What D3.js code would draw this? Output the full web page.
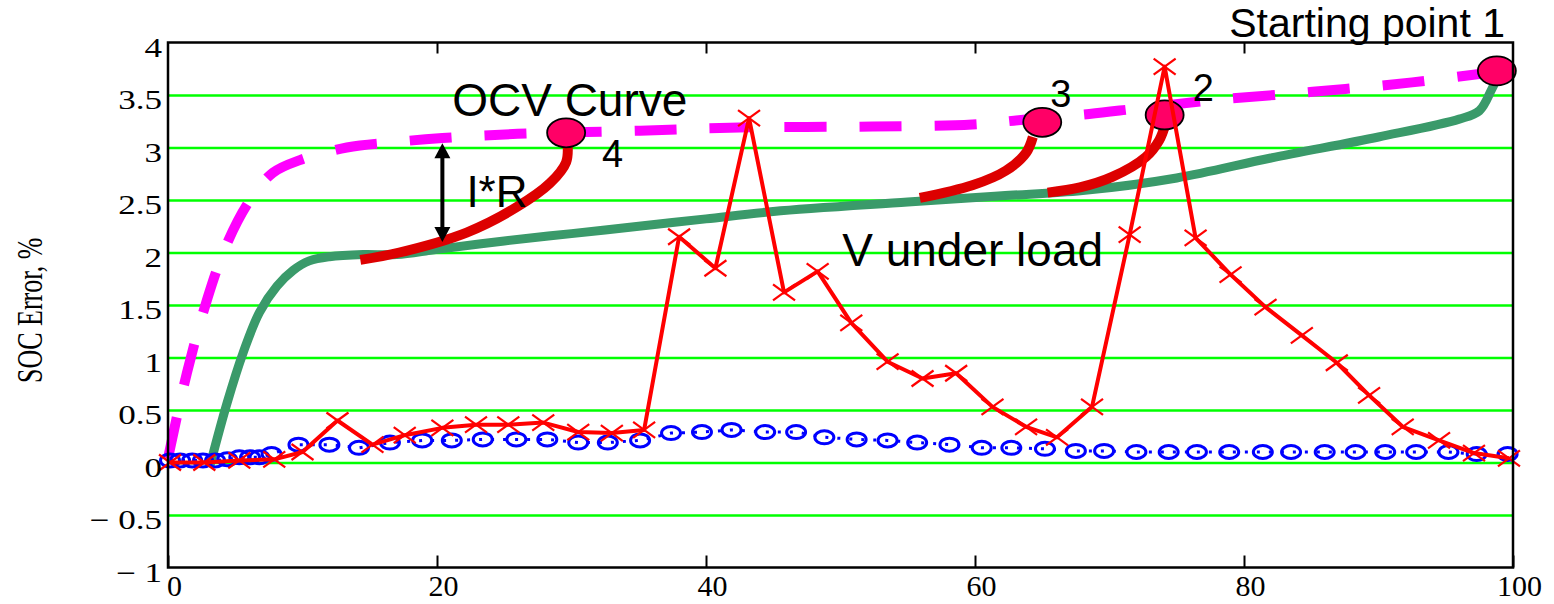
<!DOCTYPE html>
<html>
<head>
<meta charset="utf-8">
<script src="https://cdn.jsdelivr.net/npm/d3@7"></script>
<style>
  body { margin: 0; background: #fff; }
  svg { display: block; }
</style>
</head>
<body>
<div id="chart"></div>
<script>
// tick labels
const xTicks = [0, 20, 40, 60, 80, 100];
const yTicks = [-1, -0.5, 0, 0.5, 1, 1.5, 2, 2.5, 3, 3.5, 4];
const gridVals = [-0.5, 0, 0.5, 1, 1.5, 2, 2.5, 3, 3.5];

// OCV curve (dashed magenta)
const ocvX = [0, 1.4, 2.9, 4.4, 6.1, 7.8, 9.8, 13.3, 16.7, 20.4, 26, 35.1, 42.5, 52.4, 59.8, 64, 68.5, 72, 77.6, 85.1, 92.5, 97.5, 98.8];
const ocvY = [0.04, 0.85, 1.55, 2.09, 2.50, 2.76, 2.88, 3.00, 3.05, 3.09, 3.13, 3.16, 3.19, 3.20, 3.22, 3.27, 3.32, 3.37, 3.45, 3.53, 3.62, 3.70, 3.72];

// V under load (green)
const loadX = [3.1, 4.4, 5.6, 6.8, 8.1, 9.3, 10.5, 12, 14.5, 17, 20, 25, 30, 35, 40, 45, 55, 62, 68, 75, 82, 90, 96, 97.5, 98.4, 99];
const loadY = [-0.04, 0.57, 1.05, 1.43, 1.68, 1.83, 1.92, 1.96, 1.98, 1.98, 2.03, 2.11, 2.18, 2.25, 2.32, 2.39, 2.48, 2.54, 2.59, 2.71, 2.90, 3.10, 3.27, 3.35, 3.55, 3.72];

// relaxation curves (thick red), ending at the starting points
const relax4X = [14.3, 17.2, 22.2, 25.9, 28.4, 29.6, 29.7];
const relax4Y = [1.93, 2.00, 2.19, 2.43, 2.66, 2.86, 3.05];
const relax3X = [55.9, 59.8, 62.3, 63.8, 64.3];
const relax3Y = [2.52, 2.64, 2.78, 2.95, 3.10];
const relax2X = [65.4, 67.8, 70.2, 72.7, 73.7, 74.1];
const relax2Y = [2.57, 2.62, 2.72, 2.91, 3.07, 3.20];

// starting points
const startLabels = ["1", "2", "3", "4"];
const startX = [98.8, 74.1, 65.0, 29.6];
const startY = [3.73, 3.31, 3.24, 3.14];

// SOC error, circles (blue)
const circX = [0.15, 0.9, 1.8, 2.6, 3.5, 4.4, 5.3, 6.1, 6.8, 7.7, 9.7, 12.0, 14.2, 16.5, 18.9, 21.1, 23.4, 25.9, 28.2, 30.5, 32.7, 35.1, 37.4, 39.7, 41.9, 44.4, 46.7, 48.8, 51.2, 53.5, 55.7, 58.1, 60.5, 62.7, 65.2, 67.5, 69.6, 72.0, 74.4, 76.5, 78.9, 81.4, 83.5, 86.0, 88.3, 90.5, 92.8, 95.2, 97.3, 99.6];
const circY = [0.02, 0.02, 0.02, 0.02, 0.02, 0.03, 0.05, 0.05, 0.05, 0.08, 0.17, 0.17, 0.14, 0.19, 0.21, 0.21, 0.22, 0.22, 0.22, 0.19, 0.19, 0.21, 0.28, 0.29, 0.31, 0.29, 0.29, 0.24, 0.22, 0.21, 0.19, 0.17, 0.14, 0.14, 0.13, 0.11, 0.11, 0.10, 0.10, 0.10, 0.10, 0.10, 0.10, 0.10, 0.10, 0.10, 0.10, 0.10, 0.08, 0.08];

// SOC error, crosses (red)
const crossX = [0.15, 2.7, 5.3, 7.9, 10.0, 12.6, 15.2, 17.6, 20.4, 22.9, 25.3, 27.9, 30.5, 33.0, 35.4, 38.0, 40.7, 43.2, 45.8, 48.3, 50.8, 53.5, 56.1, 58.6, 61.3, 63.8, 66.1, 68.7, 71.5, 74.1, 76.4, 79.0, 81.6, 84.3, 86.9, 89.3, 91.8, 94.5, 97.1, 99.7];
const crossY = [0.0, 0.0, 0.02, 0.03, 0.10, 0.40, 0.17, 0.26, 0.33, 0.36, 0.36, 0.38, 0.29, 0.28, 0.31, 2.15, 1.85, 3.28, 1.62, 1.82, 1.33, 0.96, 0.80, 0.85, 0.53, 0.34, 0.24, 0.53, 2.17, 3.77, 2.14, 1.79, 1.48, 1.21, 0.95, 0.64, 0.34, 0.21, 0.09, 0.04];

const W = 1554, H = 604;
const margin = { top: 42.5, right: 41, bottom: 36.5, left: 168 };
const width = W - margin.left - margin.right;
const height = H - margin.top - margin.bottom;

const svg = d3.select("#chart").append("svg")
  .attr("width", W).attr("height", H);
const g = svg.append("g")
  .attr("transform", `translate(${margin.left},${margin.top})`);

const x = d3.scaleLinear().domain([0, 100]).range([0, width]);
const y = d3.scaleLinear().domain([-1, 4]).range([height, 0]);

const zip = (xs, ys) => xs.map((v, i) => [v, ys[i]]);
const line = d3.line().x(d => x(d[0])).y(d => y(d[1]));
const smooth = d3.line().x(d => x(d[0])).y(d => y(d[1])).curve(d3.curveCatmullRom);

// grid
g.append("g")
  .call(d3.axisLeft(y).tickValues(gridVals).tickSize(-width).tickFormat(""))
  .call(a => a.select(".domain").remove())
  .selectAll("line").attr("stroke", "#00ff00").attr("stroke-width", 2.6);

// OCV curve
g.append("path")
  .datum(zip(ocvX, ocvY))
  .attr("d", smooth)
  .attr("fill", "none")
  .attr("stroke", "#ff00ff")
  .attr("stroke-width", 10)
  .attr("stroke-dasharray", "42,33");

// V under load
g.append("path")
  .datum(zip(loadX, loadY))
  .attr("d", smooth)
  .attr("fill", "none")
  .attr("stroke", "#3a9a6a")
  .attr("stroke-width", 9)
  .attr("stroke-linejoin", "round");

// relaxation curves
[[relax4X, relax4Y], [relax3X, relax3Y], [relax2X, relax2Y]].forEach(([xs, ys]) => {
  g.append("path")
    .datum(zip(xs, ys))
    .attr("d", smooth)
    .attr("fill", "none")
    .attr("stroke", "#dd0000")
    .attr("stroke-width", 10);
});

// starting points
g.selectAll(".start")
  .data(zip(startX, startY))
  .enter().append("ellipse")
  .attr("class", "start")
  .attr("cx", d => x(d[0]))
  .attr("cy", d => y(d[1]))
  .attr("rx", 19).attr("ry", 14.5)
  .attr("fill", "#ff0066")
  .attr("stroke", "#000")
  .attr("stroke-width", 1.8);

// blue circles series
g.append("path")
  .datum(zip(circX, circY))
  .attr("d", line)
  .attr("fill", "none")
  .attr("stroke", "#0000ff")
  .attr("stroke-width", 3)
  .attr("stroke-dasharray", "3,9");
g.selectAll(".circ")
  .data(zip(circX, circY))
  .enter().append("ellipse")
  .attr("class", "circ")
  .attr("cx", d => x(d[0]))
  .attr("cy", d => y(d[1]))
  .attr("rx", 9.5).attr("ry", 6.5)
  .attr("fill", "none")
  .attr("stroke", "#0000ff")
  .attr("stroke-width", 3);

// red crosses series
g.append("path")
  .datum(zip(crossX, crossY))
  .attr("d", line)
  .attr("fill", "none")
  .attr("stroke", "#ff0000")
  .attr("stroke-width", 4)
  .attr("stroke-linejoin", "round");
const cross = g.selectAll(".cross")
  .data(zip(crossX, crossY))
  .enter().append("g")
  .attr("class", "cross")
  .attr("transform", d => `translate(${x(d[0])},${y(d[1])})`);
cross.append("line").attr("x1", -11).attr("y1", -8).attr("x2", 11).attr("y2", 8);
cross.append("line").attr("x1", -11).attr("y1", 8).attr("x2", 11).attr("y2", -8);
cross.selectAll("line").attr("stroke", "#ff0000").attr("stroke-width", 2.2);

// I*R arrow
const ax = x(20.4), ay1 = y(3.04), ay2 = y(2.1);
g.append("line")
  .attr("x1", ax).attr("x2", ax)
  .attr("y1", ay1 + 12).attr("y2", ay2 - 12)
  .attr("stroke", "#000").attr("stroke-width", 4);
g.append("path")
  .attr("d", `M${ax},${ay1} L${ax - 8},${ay1 + 15} L${ax + 8},${ay1 + 15} Z M${ax},${ay2} L${ax - 8},${ay2 - 15} L${ax + 8},${ay2 - 15} Z`)
  .attr("fill", "#000");

// annotations
const sans = "'Liberation Sans', Arial, sans-serif";
const notes = [
  { t: "OCV Curve", x: 21.5, y: 3.0, size: 46, anchor: "start", dx: -5, dy: -32 },
  { t: "I*R", x: 20.4, y: 2.43, size: 44, anchor: "start", dx: 24, dy: 0 },
  { t: "V under load", x: 50.2, y: 1.87, size: 46, anchor: "start", dx: -1, dy: 0 },
  { t: "Starting point 1", x: 100, y: 4, size: 41, anchor: "end", dx: -8, dy: -6 }
];
g.selectAll(".note")
  .data(notes)
  .enter().append("text")
  .attr("class", "note")
  .attr("x", d => x(d.x) + d.dx)
  .attr("y", d => y(d.y) + d.dy)
  .attr("text-anchor", d => d.anchor)
  .attr("font-family", sans)
  .attr("font-size", d => d.size)
  .text(d => d.t);

// numbers beside starting points 2..4
const numOffset = [null, [28, -14], [8, -15], [36, 34]];
g.selectAll(".num")
  .data(startLabels.slice(1).map((s, i) => ({ s, i: i + 1 })))
  .enter().append("text")
  .attr("class", "num")
  .attr("x", d => x(startX[d.i]) + numOffset[d.i][0])
  .attr("y", d => y(startY[d.i]) + numOffset[d.i][1])
  .attr("font-family", sans)
  .attr("font-size", 38)
  .text(d => d.s);

// frame
g.append("rect")
  .attr("width", width).attr("height", height)
  .attr("fill", "none").attr("stroke", "#000").attr("stroke-width", 2.5);

const serif = "'Liberation Serif', 'Times New Roman', serif";

// x axis
g.append("g")
  .attr("transform", `translate(0,${height})`)
  .call(d3.axisBottom(x).tickValues(xTicks).tickSize(-12).tickPadding(7))
  .call(a => a.select(".domain").remove())
  .call(a => a.selectAll("line").attr("stroke", "#000").attr("stroke-width", 2))
  .call(a => a.selectAll("text")
    .attr("font-family", serif).attr("font-size", 30).attr("fill", "#000")
    .attr("dx", 6));

// top ticks
g.append("g")
  .call(d3.axisTop(x).tickValues([20, 40, 60, 80]).tickSize(-11).tickFormat(""))
  .call(a => a.select(".domain").remove())
  .call(a => a.selectAll("line").attr("stroke", "#000").attr("stroke-width", 2));

// y axis
g.append("g")
  .call(d3.axisLeft(y).tickValues(yTicks).tickSize(0).tickPadding(0)
    .tickFormat(d => d < 0 ? "\u2212 " + Math.abs(d) : String(d)))
  .call(a => a.select(".domain").remove())
  .call(a => a.selectAll("text")
    .attr("font-family", serif).attr("font-size", 27).attr("fill", "#000")
    .attr("x", -6 / 1.3).attr("dy", "0.5em")
    .attr("transform", "scale(1.3,1)"));

// y axis title
svg.append("text")
  .attr("transform", `translate(42,${margin.top + y(1.45)}) scale(1.4,1) rotate(-90)`)
  .attr("text-anchor", "middle")
  .attr("font-family", serif)
  .attr("font-size", 26)
  .text("SOC Error, %");
</script>
</body>
</html>
